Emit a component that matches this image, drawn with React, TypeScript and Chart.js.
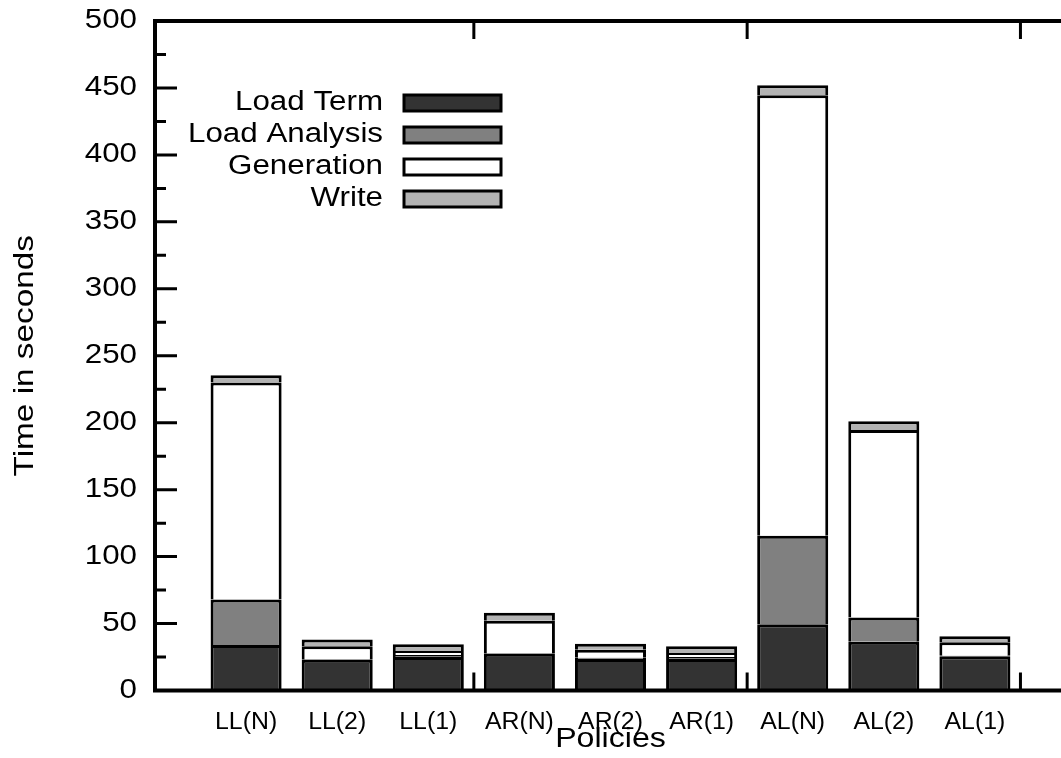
import React, { useEffect, useRef } from 'react';
import { Chart, registerables } from 'chart.js';

Chart.register(...registerables);

const categories = ['LL(N)', 'LL(2)', 'LL(1)', 'AR(N)', 'AR(2)', 'AR(1)', 'AL(N)', 'AL(2)', 'AL(1)'];
const loadTerm = [34, 23, 25, 27.5, 23.5, 23.5, 49.5, 36.5, 25.5];
const loadAnalysis = [34, 0.5, 1.5, 0.5, 1, 1.5, 66, 18, 0.5];
const generation = [162, 9.5, 3, 24, 6, 3, 329, 140, 10];
const write = [5.5, 5, 5, 6, 4.5, 5, 7.5, 6.5, 4.5];
const yTickLabels = [0, 50, 100, 150, 200, 250, 300, 350, 400, 450, 500];
const yMinorTicks = [25, 75, 125, 175, 225, 275, 325, 375, 425, 475];
const groupBoundaries = [2.5, 5.5, 8.5];
const yTitle = 'Time in seconds';
const xTitle = 'Policies';

const FONT = '"Liberation Sans", Arial, Helvetica, sans-serif';

function textStretched(ctx: CanvasRenderingContext2D, text: string, x: number, y: number, size: number, sx: number, align: CanvasTextAlign, rotate = 0) {
  ctx.save();
  ctx.translate(x, y);
  if (rotate) ctx.rotate(rotate);
  ctx.scale(sx, 1);
  ctx.font = `${size}px ${FONT}`;
  ctx.fillStyle = '#000';
  ctx.textAlign = align;
  ctx.textBaseline = 'middle';
  ctx.fillText(text, 0, 0);
  ctx.restore();
}

const decorPlugin = {
  id: 'gnuplotDecor',
  afterDraw(chart: any) {
    const ctx: CanvasRenderingContext2D = chart.ctx;
    const { left, right, top, bottom } = chart.chartArea;
    const xs = chart.scales.x;
    const ys = chart.scales.y;
    ctx.save();
    ctx.strokeStyle = '#000';
    ctx.lineCap = 'butt';
    ctx.lineWidth = 3;
    ctx.beginPath();
    yTickLabels.forEach((v) => {
      if (v === 0 || v === 500) return;
      const py = ys.getPixelForValue(v);
      ctx.moveTo(left, py);
      ctx.lineTo(left + 22, py);
    });
    yMinorTicks.forEach((v) => {
      const py = ys.getPixelForValue(v);
      ctx.moveTo(left, py);
      ctx.lineTo(left + 11, py);
    });
    groupBoundaries.forEach((v) => {
      const px = xs.getPixelForValue(v);
      ctx.moveTo(px, bottom);
      ctx.lineTo(px, bottom - 18);
      ctx.moveTo(px, top);
      ctx.lineTo(px, top + 18);
    });
    ctx.stroke();
    ctx.lineWidth = 4;
    ctx.strokeRect(left, top, right - left, bottom - top);
    ctx.restore();

    yTickLabels.forEach((v) => {
      textStretched(ctx, String(v), 137, ys.getPixelForValue(v), 27, 1.16, 'right');
    });
    categories.forEach((c, i) => {
      textStretched(ctx, c, xs.getPixelForValue(i), 723, 23, 1.08, 'center');
    });
    textStretched(ctx, xTitle, (left + right) / 2, 740, 27, 1.19, 'center');
    textStretched(ctx, yTitle, 25, (top + bottom) / 2, 28, 1.19, 'center', -Math.PI / 2);

    const rows = [103, 135, 167, 199];
    chart.data.datasets.forEach((ds: any, i: number) => {
      const cy = rows[i];
      textStretched(ctx, ds.label, 383, cy, 27, 1.16, 'right');
      ctx.save();
      ctx.fillStyle = ds.backgroundColor;
      ctx.fillRect(404, cy - 8, 97, 16);
      ctx.lineWidth = 3;
      ctx.strokeStyle = '#000';
      ctx.strokeRect(404, cy - 8, 97, 16);
      ctx.restore();
    });
  },
};

export default function App() {
  const canvasRef = useRef<HTMLCanvasElement | null>(null);

  useEffect(() => {
    if (!canvasRef.current) return;
    const mk = (arr: number[]) => arr.map((v, i) => ({ x: i, y: v }));
    const common = {
      borderColor: '#000000',
      borderWidth: 3,
      barPercentage: 0.78,
      categoryPercentage: 1,
    };
    const chart = new Chart(canvasRef.current, {
      type: 'bar',
      data: {
        datasets: [
          { label: 'Load Term', data: mk(loadTerm), backgroundColor: '#333333', ...common },
          { label: 'Load Analysis', data: mk(loadAnalysis), backgroundColor: '#808080', ...common },
          { label: 'Generation', data: mk(generation), backgroundColor: '#ffffff', ...common },
          { label: 'Write', data: mk(write), backgroundColor: '#b3b3b3', ...common },
        ],
      } as any,
      options: {
        animation: false,
        responsive: false,
        devicePixelRatio: 1,
        layout: { padding: { left: 0, top: 21, right: 14, bottom: 0 } },
        plugins: { legend: { display: false }, tooltip: { enabled: false }, title: { display: false } },
        scales: {
          x: {
            type: 'linear',
            min: -1,
            max: 9,
            stacked: true,
            offset: false,
            ticks: { display: false },
            grid: { display: false },
            border: { display: false },
            afterFit: (s: any) => { s.height = 67.5; },
          },
          y: {
            type: 'linear',
            min: 0,
            max: 500,
            stacked: true,
            ticks: { display: false },
            grid: { display: false },
            border: { display: false },
            afterFit: (s: any) => { s.width = 155; },
          },
        },
      } as any,
      plugins: [decorPlugin],
    });
    return () => chart.destroy();
  }, []);

  return (
    <div style={{ position: 'absolute', left: 0, top: 0, width: 1061, height: 758, overflow: 'hidden', background: '#fff' }}>
      <canvas ref={canvasRef} width={1080} height={758} style={{ display: 'block' }} />
    </div>
  );
}
